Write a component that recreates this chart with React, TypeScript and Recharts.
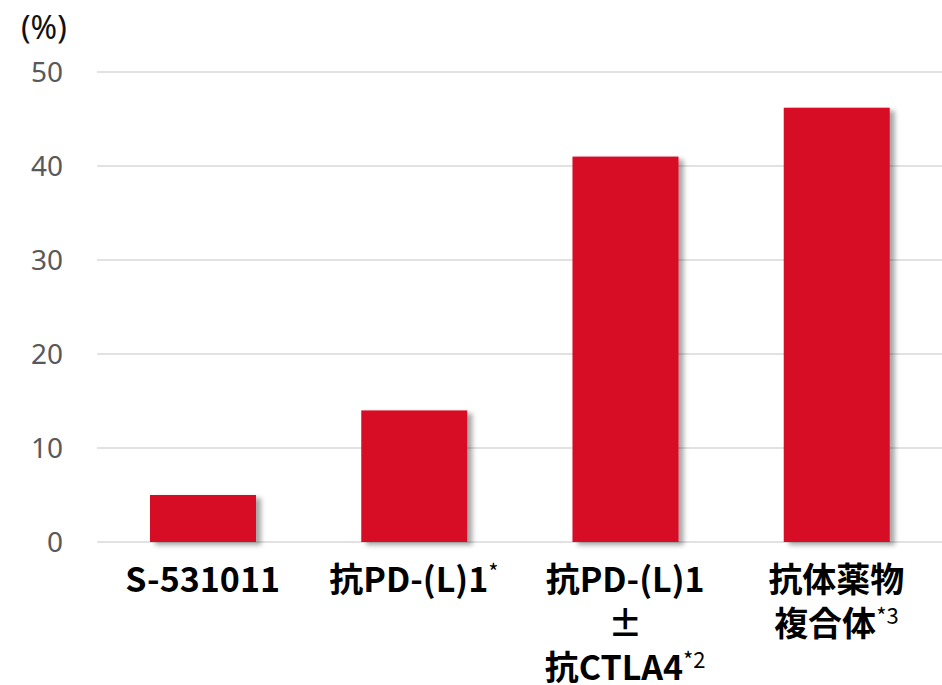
import { BarChart, Bar, XAxis, YAxis, CartesianGrid } from "recharts"

const categories = ["S-531011", "抗PD-(L)1", "抗PD-(L)1 ± 抗CTLA4", "抗体薬物複合体"]
const labelLines = [["S-531011"], ["抗PD-(L)1"], ["抗PD-(L)1", "±", "抗CTLA4"], ["抗体薬物", "複合体"]]
const labelNotes = ["", "*", "*2", "*3"]
const values = [5, 14, 41, 46.2]
const yTicks = [0, 10, 20, 30, 40, 50]

const data = categories.map((name, i) => ({ name, value: values[i], idx: i }))

const BAR_COLOR = "#D70C25"
const LABEL_FONT = "'Noto Sans CJK JP', 'Noto Sans', sans-serif"

function CategoryTick(props: any) {
    const { x, y, index } = props
    const lines = labelLines[index] || []
    const note = labelNotes[index]
    return (
        <g>
            {lines.map((line, i) => (
                <text
                    key={i}
                    x={x}
                    y={y + 50 + i * 44}
                    textAnchor="middle"
                    fontFamily={LABEL_FONT}
                    fontWeight={700}
                    fontSize={34}
                    fill="#000"
                >
                    {line}
                    {i === lines.length - 1 && note ? (
                        <tspan fontSize={22} fontWeight={400} dy={-12}>{note}</tspan>
                    ) : null}
                </text>
            ))}
        </g>
    )
}

function ShadowBar(props: any) {
    const { x, y, width, height } = props
    return <rect x={x} y={y} width={width} height={height} fill={BAR_COLOR} filter="url(#barShadow)" />
}

export default function App() {
    return (
        <div style={{ position: "fixed", left: 0, top: 0, width: 942, height: 685, background: "#fff" }}>
            <div
                style={{
                    position: "absolute",
                    left: 21,
                    top: 7,
                    fontFamily: "'Noto Sans', sans-serif",
                    fontSize: 32,
                    color: "#111",
                    lineHeight: "40px",
                }}
            >
                (%)
            </div>
            <BarChart
                width={942}
                height={685}
                data={data}
                margin={{ top: 72, right: 0, left: 0, bottom: 0 }}
                barSize={106}
            >
                <defs>
                    <filter id="barShadow" x="-20%" y="-20%" width="140%" height="140%">
                        <feDropShadow dx={5} dy={3} stdDeviation={2.5} floodColor="#000" floodOpacity={0.35} />
                    </filter>
                </defs>
                <CartesianGrid vertical={false} stroke="#d9d9d9" strokeWidth={1.5} />
                <XAxis
                    dataKey="name"
                    axisLine={false}
                    tickLine={false}
                    tickSize={0}
                    tickMargin={0}
                    height={143}
                    interval={0}
                    tick={<CategoryTick />}
                />
                <YAxis
                    domain={[0, 50]}
                    ticks={yTicks}
                    axisLine={false}
                    tickLine={false}
                    tickSize={0}
                    tickMargin={34}
                    width={97}
                    tick={{ fontSize: 28, fill: "#595959", fontFamily: "'Noto Sans', sans-serif" }}
                />
                <Bar dataKey="value" fill={BAR_COLOR} shape={<ShadowBar />} isAnimationActive={false} />
            </BarChart>
        </div>
    )
}
